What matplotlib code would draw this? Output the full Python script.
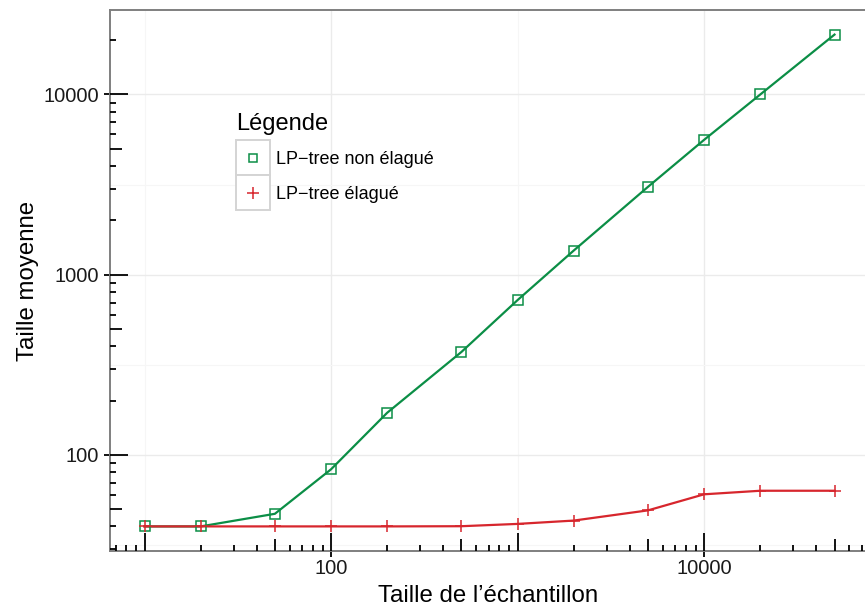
import matplotlib.pyplot as plt
import numpy as np
from matplotlib.lines import Line2D
from matplotlib.patches import Rectangle
from matplotlib.ticker import NullFormatter
from matplotlib.transforms import Affine2D

plt.rcParams['font.family'] = ['Liberation Sans', 'DejaVu Sans']

# data (log-log)
sizes = [10, 20, 50, 100, 200, 500, 1000, 2000, 5000, 10000, 20000, 50000]
unpruned = [40, 40, 47, 83, 171, 372, 722, 1360, 3070, 5600, 10000, 21500]
pruned = [40, 40, 40, 40, 40, 40.1, 41.3, 43.1, 49.1, 60.3, 63.1, 63.1]
series_names = ['LP\u2212tree non élagué', 'LP\u2212tree élagué']
x_ticks = [100, 10000]
y_ticks = [100, 1000, 10000]

GREEN = '#0b8e46'
RED = '#d7262d'
W, H = 865, 612


def log_limits(values, expand=0.05):
    lo, hi = np.log10(min(values)), np.log10(max(values))
    span = hi - lo
    return 10 ** (lo - expand * span), 10 ** (hi + expand * span)


def log_ticks(lo, hi):
    # annotation_logticks style: long at 10^k, mid at 5*10^k, short otherwise
    vals, kinds = [], []
    for k in range(int(np.floor(np.log10(lo))), int(np.ceil(np.log10(hi))) + 1):
        for m in range(1, 10):
            v = m * 10 ** k
            if lo <= v <= hi:
                vals.append(v)
                kinds.append(18 if m == 1 else 12 if m == 5 else 6)
    return vals, np.array(kinds, dtype=float)


fig = plt.figure(figsize=(W / 100, H / 100), dpi=100)
# the panel runs a few pixels past the right edge of the picture
ax_l, ax_t, ax_r, ax_b = 110, 10, 869, 551
ax = fig.add_axes([ax_l / W, 1 - ax_b / H, (ax_r - ax_l) / W, (ax_b - ax_t) / H])
ax.set_xscale('log')
ax.set_yscale('log')

xlim = log_limits(sizes)
ylim = log_limits(unpruned + pruned)
ax.set_xlim(*xlim)
ax.set_ylim(*ylim)

# grid: major at labelled decades, minor at log midpoints
ax.set_xticks(x_ticks, labels=[str(v) for v in x_ticks])
ax.set_yticks(y_ticks, labels=[str(v) for v in y_ticks])
ax.set_xticks([10, 1000], minor=True)
ax.set_yticks([10 ** 1.5, 10 ** 2.5, 10 ** 3.5], minor=True)
ax.xaxis.set_minor_formatter(NullFormatter())
ax.yaxis.set_minor_formatter(NullFormatter())
ax.tick_params(which='minor', length=0)
ax.tick_params(which='major', direction='out', length=4.5, width=1.3,
               color='black', labelsize=14.5, labelcolor='#1a1a1a')
ax.tick_params(axis='x', which='major', pad=1.5)
ax.tick_params(axis='y', which='major', pad=3.5)
ax.grid(which='major', color='#ebebeb', lw=1.0, zorder=0)
ax.grid(which='minor', color='#f6f6f6', lw=0.8, zorder=0)
ax.set_axisbelow(True)

for side in ('left', 'bottom', 'top'):
    ax.spines[side].set_color('#7f7f7f')
    ax.spines[side].set_linewidth(1.4)
ax.spines['right'].set_visible(False)

# log ticks drawn inside the panel
xv, xk = log_ticks(*xlim)
ax.vlines(xv, 0, xk / (ax_b - ax_t), transform=ax.get_xaxis_transform(),
          color='black', lw=1.3, zorder=3)
yv, yk = log_ticks(*ylim)
ax.hlines(yv, 0, yk / (ax_r - ax_l), transform=ax.get_yaxis_transform(),
          color='black', lw=1.3, zorder=3)

ax.plot(sizes, unpruned, color=GREEN, lw=1.6, zorder=4)
ax.plot(sizes, pruned, color=RED, lw=1.6, zorder=4)
ax.plot(sizes, unpruned, ls='none', marker='s', ms=6.5, mfc='none',
        mec=GREEN, mew=1.1, zorder=5)
ax.plot(sizes, pruned, ls='none', marker='+', ms=8.5, mec=RED, mew=1.1,
        zorder=5)

ax.set_xlabel('Taille de l\u2019échantillon', fontsize=17.3, color='black')
ax.set_ylabel('Taille moyenne', fontsize=17.3, color='black')
ax.xaxis.set_label_coords((488 - ax_l) / (ax_r - ax_l), (ax_b - 596) / (ax_b - ax_t))
ax.xaxis.label.set_va('center')
ax.yaxis.set_label_coords((28 - ax_l) / (ax_r - ax_l), 0.5)
ax.yaxis.label.set_va('center')

# legend, drawn by hand to get the boxed keys
px = Affine2D().scale(1 / W, -1 / H).translate(0, 1) + fig.transFigure
fig.text(236, 130, 'Légende', transform=px, fontsize=17, va='baseline')
key_styles = [dict(marker='s', ms=5.8, mfc='none', mec=GREEN, mew=1.1),
              dict(marker='+', ms=8.5, mec=RED, mew=1.1)]
for i, (name, style) in enumerate(zip(series_names, key_styles)):
    top = 140 + 35 * i
    fig.patches.append(Rectangle((236, top), 34, 35, transform=px,
                                 fc='white', ec='#d4d4d4', lw=1.4))
    fig.add_artist(Line2D([253], [top + 17.5], transform=px, ls='none',
                          **style))
    fig.text(276, top + 24.3, name, transform=px, fontsize=13,
             va='baseline')

fig.savefig('out.png', dpi=100)
